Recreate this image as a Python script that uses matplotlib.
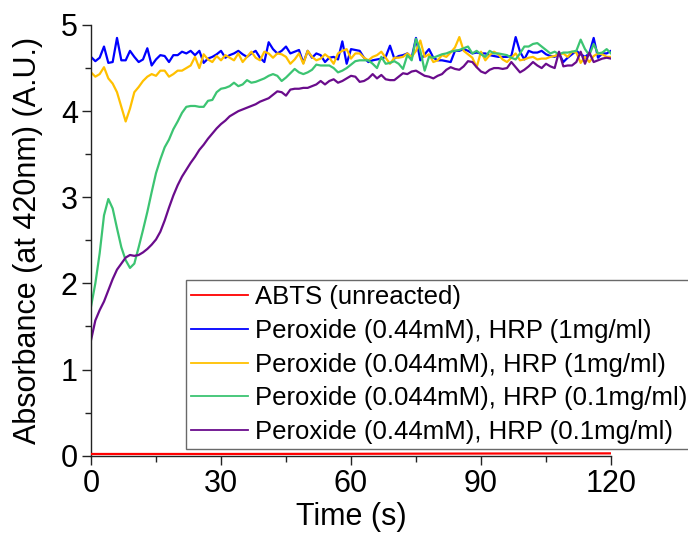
import matplotlib
matplotlib.use("Agg")
import matplotlib.pyplot as plt
from matplotlib.ticker import MultipleLocator

plt.rcParams['font.family'] = ['Liberation Sans', 'DejaVu Sans']

time_s = list(range(0, 121))

red_t = [0, 30, 60, 90, 120]
abts_unreacted = [0.02, 0.02, 0.022, 0.025, 0.027]

blue_044_1 = [4.63, 4.58, 4.62, 4.75, 4.56, 4.57, 4.85, 4.59, 4.59, 4.70,
              4.63, 4.57, 4.60, 4.73, 4.53, 4.60, 4.65, 4.64, 4.57, 4.65,
              4.65, 4.69, 4.67, 4.70, 4.65, 4.70, 4.56, 4.61, 4.63, 4.66,
              4.70, 4.62, 4.65, 4.67, 4.70, 4.66, 4.63, 4.67, 4.70, 4.62,
              4.57, 4.80, 4.72, 4.67, 4.70, 4.75, 4.67, 4.69, 4.71, 4.56,
              4.70, 4.62, 4.67, 4.65, 4.57, 4.62, 4.63, 4.60, 4.81, 4.55,
              4.72, 4.71, 4.70, 4.62, 4.57, 4.59, 4.60, 4.61, 4.63, 4.76,
              4.61, 4.64, 4.65, 4.67, 4.62, 4.85, 4.59, 4.66, 4.72, 4.62,
              4.59, 4.59, 4.58, 4.57, 4.70, 4.70, 4.72, 4.70, 4.67, 4.68,
              4.67, 4.67, 4.65, 4.64, 4.63, 4.63, 4.63, 4.64, 4.86, 4.69,
              4.60, 4.70, 4.68, 4.68, 4.70, 4.66, 4.64, 4.63, 4.67, 4.57,
              4.62, 4.66, 4.70, 4.66, 4.63, 4.67, 4.85, 4.62, 4.67, 4.67,
              4.70]

yellow_0044_1 = [4.45, 4.40, 4.43, 4.51, 4.38, 4.32, 4.22, 4.05, 3.88, 4.03,
                 4.22, 4.28, 4.35, 4.40, 4.43, 4.41, 4.47, 4.47, 4.40, 4.43,
                 4.47, 4.47, 4.50, 4.53, 4.63, 4.50, 4.66, 4.60, 4.57, 4.64,
                 4.59, 4.65, 4.62, 4.59, 4.67, 4.57, 4.63, 4.69, 4.62, 4.59,
                 4.69, 4.67, 4.62, 4.67, 4.66, 4.63, 4.55, 4.60, 4.67, 4.55,
                 4.70, 4.63, 4.59, 4.61, 4.66, 4.62, 4.55, 4.67, 4.70, 4.72,
                 4.61, 4.67, 4.67, 4.62, 4.59, 4.63, 4.65, 4.69, 4.62, 4.55,
                 4.62, 4.62, 4.63, 4.67, 4.63, 4.70, 4.82, 4.63, 4.66, 4.57,
                 4.59, 4.65, 4.63, 4.68, 4.74, 4.86, 4.70, 4.66, 4.62, 4.51,
                 4.69, 4.59, 4.65, 4.69, 4.66, 4.60, 4.57, 4.62, 4.67, 4.59,
                 4.60, 4.62, 4.63, 4.60, 4.61, 4.61, 4.63, 4.64, 4.66, 4.67,
                 4.63, 4.69, 4.68, 4.56, 4.63, 4.57, 4.64, 4.67, 4.66, 4.63,
                 4.63]

green_0044_01 = [1.73, 2.00, 2.35, 2.79, 2.98, 2.87, 2.64, 2.42, 2.27, 2.18,
                 2.23, 2.42, 2.62, 2.83, 3.06, 3.28, 3.44, 3.58, 3.67, 3.79,
                 3.88, 3.98, 4.05, 4.06, 4.06, 4.05, 4.05, 4.12, 4.13, 4.22,
                 4.26, 4.27, 4.29, 4.33, 4.29, 4.31, 4.36, 4.33, 4.34, 4.36,
                 4.38, 4.41, 4.43, 4.41, 4.35, 4.39, 4.44, 4.49, 4.45, 4.43,
                 4.45, 4.48, 4.54, 4.53, 4.53, 4.53, 4.50, 4.45, 4.47, 4.50,
                 4.54, 4.58, 4.59, 4.59, 4.59, 4.55, 4.50, 4.63, 4.55, 4.56,
                 4.58, 4.55, 4.49, 4.65, 4.59, 4.84, 4.70, 4.47, 4.63, 4.62,
                 4.64, 4.66, 4.67, 4.69, 4.70, 4.71, 4.73, 4.75, 4.67, 4.70,
                 4.66, 4.63, 4.70, 4.67, 4.67, 4.66, 4.65, 4.62, 4.60, 4.67,
                 4.75, 4.75, 4.78, 4.79, 4.75, 4.71, 4.67, 4.69, 4.66, 4.68,
                 4.68, 4.69, 4.70, 4.83, 4.72, 4.65, 4.78, 4.67, 4.68, 4.72,
                 4.67]

purple_044_01 = [1.34, 1.57, 1.69, 1.79, 1.92, 2.05, 2.16, 2.23, 2.30, 2.33,
                 2.32, 2.33, 2.36, 2.40, 2.45, 2.51, 2.60, 2.73, 2.88, 3.02,
                 3.14, 3.24, 3.32, 3.40, 3.47, 3.55, 3.61, 3.68, 3.74, 3.80,
                 3.85, 3.89, 3.94, 3.97, 4.00, 4.02, 4.04, 4.06, 4.08, 4.11,
                 4.13, 4.15, 4.19, 4.23, 4.22, 4.18, 4.25, 4.26, 4.26, 4.27,
                 4.27, 4.29, 4.31, 4.35, 4.31, 4.35, 4.37, 4.33, 4.35, 4.38,
                 4.41, 4.40, 4.34, 4.35, 4.38, 4.43, 4.38, 4.42, 4.37, 4.36,
                 4.36, 4.40, 4.44, 4.43, 4.46, 4.47, 4.44, 4.41, 4.40, 4.38,
                 4.41, 4.43, 4.48, 4.51, 4.49, 4.48, 4.52, 4.58, 4.57, 4.51,
                 4.46, 4.44, 4.48, 4.50, 4.50, 4.49, 4.50, 4.57, 4.51, 4.45,
                 4.48, 4.52, 4.57, 4.53, 4.50, 4.55, 4.52, 4.50, 4.69, 4.52,
                 4.53, 4.53, 4.57, 4.69, 4.55, 4.68, 4.57, 4.59, 4.61, 4.62,
                 4.61]

labels = ["ABTS (unreacted)",
          "Peroxide (0.44mM), HRP (1mg/ml)",
          "Peroxide (0.044mM), HRP (1mg/ml)",
          "Peroxide (0.044mM), HRP (0.1mg/ml)",
          "Peroxide (0.44mM), HRP (0.1mg/ml)"]
colors = ["#FF0000", "#0000FF", "#FFC000", "#3CC472", "#6A0C8C"]

fig = plt.figure(figsize=(6.88, 5.35), dpi=100)
ax = fig.add_axes([91/688, (535-455.7)/535, (611-91)/688, (455.7-25)/535])

lw = 1.6
h0, = ax.plot(red_t, abts_unreacted, color=colors[0], lw=lw, label=labels[0], zorder=5)
h1, = ax.plot(time_s, blue_044_1, color=colors[1], lw=lw, label=labels[1])
h2, = ax.plot(time_s, yellow_0044_1, color=colors[2], lw=lw, label=labels[2])
h3, = ax.plot(time_s, green_0044_01, color=colors[3], lw=lw, label=labels[3])
h4, = ax.plot(time_s, purple_044_01, color=colors[4], lw=lw, label=labels[4])

ax.set_xlim(0, 120)
ax.set_ylim(0, 5)
ax.xaxis.set_major_locator(MultipleLocator(30))
ax.xaxis.set_minor_locator(MultipleLocator(15))
ax.yaxis.set_major_locator(MultipleLocator(1))
ax.yaxis.set_minor_locator(MultipleLocator(0.5))
ax.spines['top'].set_visible(False)
ax.spines['right'].set_visible(False)
for s in ('left', 'bottom'):
    ax.spines[s].set_linewidth(1.0)
    ax.spines[s].set_color('#222222')
ax.tick_params(which='major', direction='out', length=6.5, width=1, labelsize=22,
               color='#222222', pad=3)
ax.tick_params(which='minor', direction='out', length=4, width=1, color='#222222')
ax.set_xlabel("Time (s)", fontsize=22, labelpad=2)
ax.set_ylabel("Absorbance (at 420nm) (A.U.)", fontsize=22, labelpad=13)

leg = fig.legend(handles=[h0, h1, h2, h3, h4], loc='upper left',
                 bbox_to_anchor=(186/688, (535-280)/535), borderaxespad=0,
                 fontsize=18.5, handlelength=2.2, handletextpad=0.3,
                 borderpad=0.2, labelspacing=0.38, frameon=True, fancybox=False)
leg.get_frame().set_edgecolor('#444444')
leg.get_frame().set_linewidth(1.0)
for lh in leg.get_lines():
    lh.set_linewidth(1.3)

fig.savefig("out.png", dpi=100)
